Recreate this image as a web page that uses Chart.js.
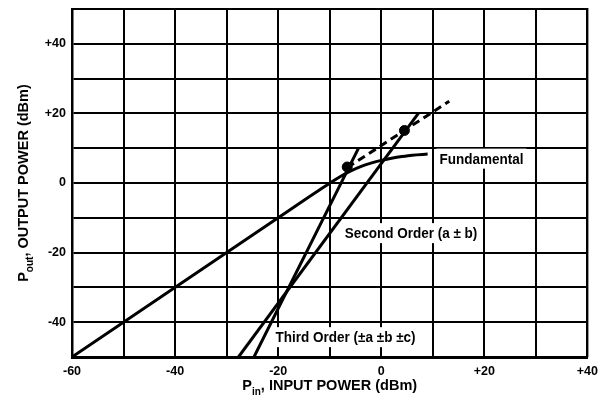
<!DOCTYPE html>
<html>
<head>
<meta charset="utf-8">
<script src="https://cdn.jsdelivr.net/npm/chart.js@4/dist/chart.umd.min.js"></script>
<style>
  html, body { margin: 0; padding: 0; background: #fff; }
</style>
</head>
<body>
<canvas id="chart" width="605" height="408"></canvas>
<script>
// values (dBm)
const fundamentalPin = [-60, -20, -12, -10, -8, -6, -4, -2, 0, 2, 4, 6, 9]
const fundamentalPout = [-50, -10, -2, -0.1, 1.8, 3.4, 4.7, 5.7, 6.5, 7.1, 7.6, 8.0, 8.3]
const secondPin = [-27.7, 7.2]
const secondPout = [-50, 20]
const thirdPin = [-24.7, -4.4]
const thirdPout = [-50, 10]
const extrapPin = [-6.6, 13.2]
const extrapPout = [4.4, 23.5]
const interceptPin = [-6.6, 4.5]
const interceptPout = [4.6, 15.1]
const xTickValues = [-60, -40, -20, 0, 20, 40]
const yTickValues = [-40, -20, 0, 20, 40]
const curveNames = ['Fundamental', 'Second Order (a \u00b1 b)', 'Third Order (\u00b1a \u00b1b \u00b1c)']

// where the curve names sit (data units, left edge / middle)
const namePin = [11.3, -7.1, -20.5]
const namePout = [7.0, -14.4, -44.3]

const zip = (xs, ys) => xs.map((x, i) => ({ x: x, y: ys[i] }))
const sign = v => v > 0 ? '+' + v : String(v)

const tickFont = { family: '"Liberation Sans", Arial, sans-serif', size: 12.5, weight: 'bold' }

let curveLabels = {
   id: 'curveLabels',
   beforeDatasetsDraw(chart) {
      const ctx = chart.ctx
      const xs = chart.scales.x
      const ys = chart.scales.y
      ctx.save()
      ctx.font = 'bold 15px "Liberation Sans", Arial, sans-serif'
      ctx.textBaseline = 'middle'
      curveNames.forEach((name, i) => {
         const px = xs.getPixelForValue(namePin[i])
         const py = ys.getPixelForValue(namePout[i])
         const w = ctx.measureText(name).width * 0.9
         ctx.fillStyle = '#fff'
         ctx.fillRect(px - 3, py - 10, w + 6, 20)
         ctx.fillStyle = '#000'
         ctx.save()
         ctx.translate(px, py)
         ctx.scale(0.9, 1)
         ctx.fillText(name, 0, 1)
         ctx.restore()
      })
      ctx.restore()
   }
}

// outer frame of the grid (top and right edges)
let frame = {
   id: 'frame',
   beforeDatasetsDraw(chart) {
      const a = chart.chartArea
      const ctx = chart.ctx
      ctx.save()
      ctx.strokeStyle = '#000'
      ctx.lineWidth = 2
      ctx.beginPath()
      ctx.moveTo(a.left, a.top)
      ctx.lineTo(a.right, a.top)
      ctx.lineTo(a.right, a.bottom)
      ctx.stroke()
      ctx.restore()
   }
}

const drawRich = (ctx, parts, cx, cy, rot) => {
   ctx.save()
   ctx.translate(cx, cy)
   ctx.rotate(rot)
   ctx.fillStyle = '#000'
   ctx.textBaseline = 'alphabetic'
   let total = 0
   parts.forEach(p => { ctx.font = p.font; total += ctx.measureText(p.text).width })
   let x = -total / 2
   parts.forEach(p => {
      ctx.font = p.font
      ctx.fillText(p.text, x, p.dy)
      x += ctx.measureText(p.text).width
   })
   ctx.restore()
}

let axisTitles = {
   id: 'axisTitles',
   afterDraw(chart) {
      const ctx = chart.ctx
      const a = chart.chartArea
      const big = 'bold 14.5px "Liberation Sans", Arial, sans-serif'
      const small = 'bold 10px "Liberation Sans", Arial, sans-serif'
      drawRich(ctx, [
         { text: 'P', font: big, dy: 0 },
         { text: 'in', font: small, dy: 5 },
         { text: ', INPUT POWER (dBm)', font: big, dy: 0 }
      ], (a.left + a.right) / 2, 390, 0)
      drawRich(ctx, [
         { text: 'P', font: big, dy: 0 },
         { text: 'out', font: small, dy: 5 },
         { text: ', OUTPUT POWER (dBm)', font: big, dy: 0 }
      ], 28, (a.top + a.bottom) / 2, -Math.PI / 2)
   }
}

const line = (data, extra) => Object.assign({
   data: data,
   showLine: true,
   borderColor: '#000',
   borderWidth: 3,
   pointRadius: 0,
   fill: false
}, extra || {})

const ctx = document.getElementById('chart').getContext('2d')
const myChart = new Chart(ctx, {
   type: 'scatter',
   data: {
      datasets: [
         line(zip(fundamentalPin, fundamentalPout), { cubicInterpolationMode: 'monotone' }),
         line(zip(secondPin, secondPout)),
         line(zip(thirdPin, thirdPout)),
         line(zip(extrapPin, extrapPout), { borderDash: [8, 5] }),
         {
            data: zip(interceptPin, interceptPout),
            showLine: false,
            pointRadius: 5,
            pointBackgroundColor: '#000',
            pointBorderColor: '#000'
         }
      ]
   },
   options: {
      responsive: false,
      animation: false,
      layout: { padding: { top: 9, right: 17, left: 0, bottom: 0 } },
      plugins: { legend: { display: false }, tooltip: { enabled: false } },
      scales: {
         x: {
            type: 'linear',
            min: -60,
            max: 40,
            afterFit: s => { s.height = 51 },
            grid: { color: '#000', lineWidth: 2, drawTicks: false },
            border: { color: '#000', width: 3 },
            ticks: {
               stepSize: 10,
               autoSkip: false,
               maxRotation: 0,
               padding: 7,
               color: '#000',
               font: tickFont,
               callback: v => xTickValues.includes(v) ? sign(v) : ''
            }
         },
         y: {
            type: 'linear',
            min: -50,
            max: 50,
            afterFit: s => { s.width = 72; s.paddingTop = 0; s.paddingBottom = 0 },
            grid: { color: '#000', lineWidth: 2, drawTicks: false },
            border: { color: '#000', width: 2.5 },
            ticks: {
               stepSize: 10,
               autoSkip: false,
               padding: 6,
               color: '#000',
               font: tickFont,
               callback: v => yTickValues.includes(v) ? sign(v) : ''
            }
         }
      }
   },
   plugins: [curveLabels, frame, axisTitles]
})
</script>
</body>
</html>
